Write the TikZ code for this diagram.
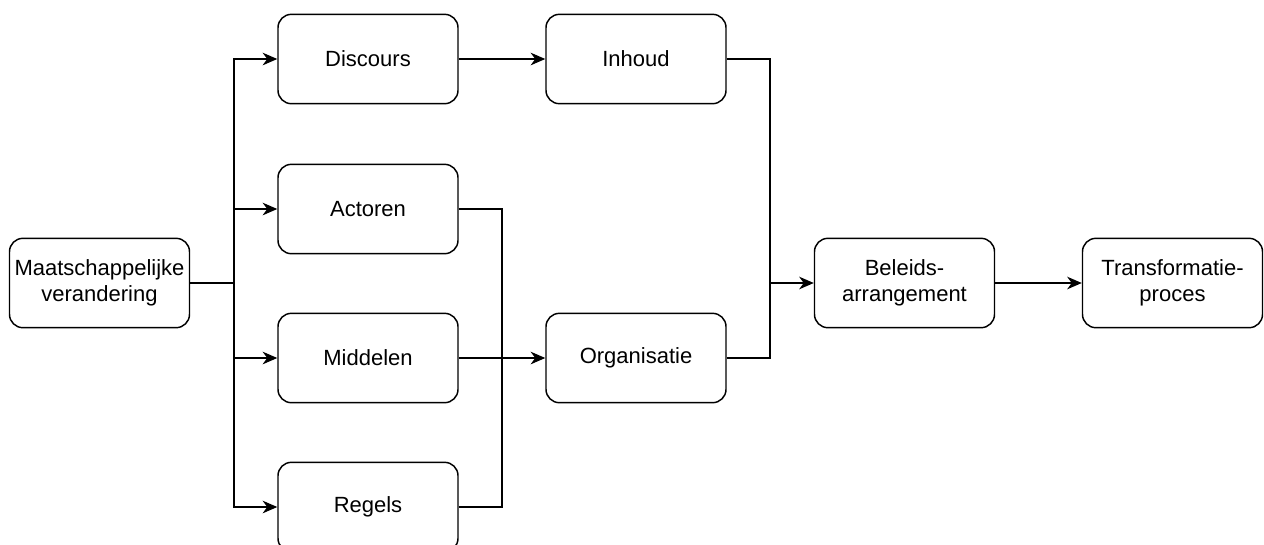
\documentclass[tikz,border=0pt]{standalone}
\usepackage{fontspec}
\setmainfont{Liberation Sans}
\usetikzlibrary{arrows.meta}

\tikzset{
  box/.style={draw, line width=1.1pt, rounded corners=10pt, minimum width=135pt, minimum height=67pt,
    inner sep=2pt, align=center, font=\fontsize{16.5}{19.5}\selectfont},
  link/.style={line width=0.9pt},
  flow/.style={link, -{Stealth[length=11pt,width=9.5pt,inset=3.5pt]}}
}

\begin{document}
\begin{tikzpicture}[x=0.75pt,y=0.75pt,yscale=-1,xscale=1]
\useasboundingbox (0,0) rectangle (1264,544);

% Text Node
\node [box] (maatschappij) at (99.5,283) {Maatschappelijke\\verandering};
% Text Node
\node [box] (discours) at (368,59) {Discours};
% Text Node
\node [box] (actoren) at (368,209) {Actoren};
% Text Node
\node [box] (middelen) at (368,358) {Middelen};
% Text Node
\node [box] (regels) at (368,507) {Regels};
% Text Node
\node [box] (inhoud) at (636,59) {Inhoud};
% Text Node
\node [box] (organisatie) at (636,358) {Organisatie};
% Text Node
\node [box] (beleid) at (904.5,283) {Beleids-\\arrangement};
% Text Node
\node [box] (transformatie) at (1172.5,283) {Transformatie-\\proces};

\coordinate (split) at (234,283);
\coordinate (merge) at (502,358);
\coordinate (join) at (770,283);

%Straight Lines
\draw [link] (maatschappij.east) -- (split);
\draw [flow] (split) |- (discours.west);
\draw [flow] (split) |- (actoren.west);
\draw [flow] (split) |- (middelen.west);
\draw [flow] (split) |- (regels.west);
%Straight Lines
\draw [flow] (discours) -- (inhoud);
\draw [link] (actoren.east) -| (merge);
\draw [link] (regels.east) -| (merge);
\draw [flow] (middelen) -- (organisatie);
%Straight Lines
\draw [link] (inhoud.east) -| (join);
\draw [link] (organisatie.east) -| (join);
\draw [flow] (join) -- (beleid.west);
\draw [flow] (beleid) -- (transformatie);
\end{tikzpicture}
\end{document}
